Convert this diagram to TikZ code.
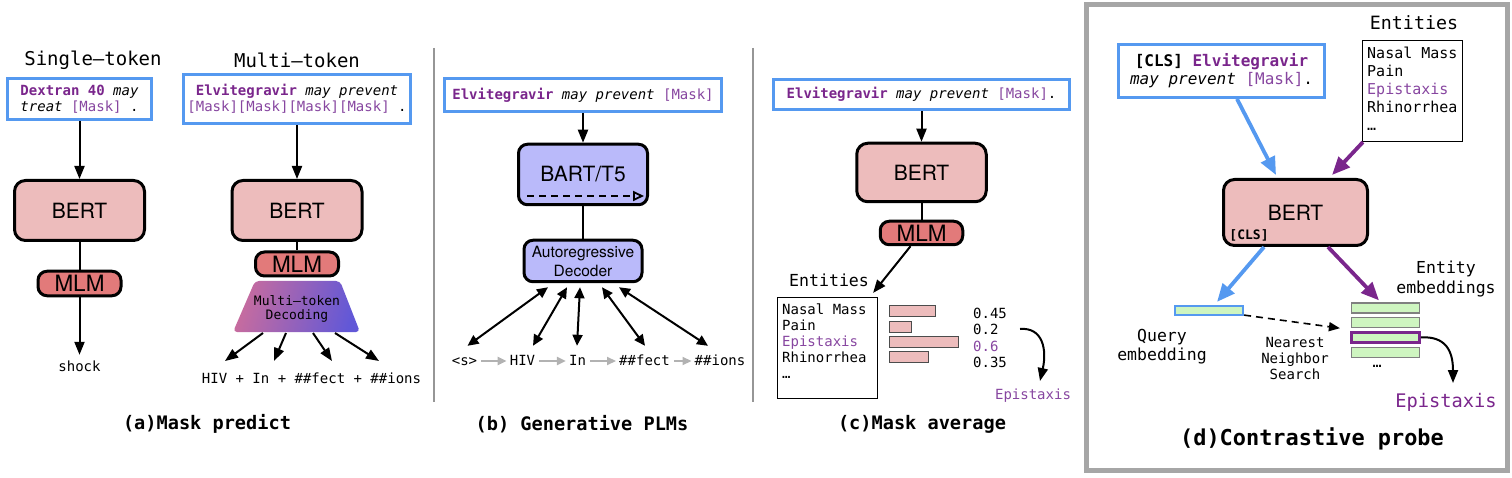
\documentclass[tikz,border=0pt]{standalone}
\usepackage{fontspec}
\setmainfont{TeX Gyre Heros}
\newfontfamily\mono{DejaVu Sans Mono}
\usetikzlibrary{arrows.meta,shapes.geometric,calc}
\definecolor{qblue}{RGB}{85,153,240}
\definecolor{pur}{RGB}{122,38,140}
\definecolor{lpur}{RGB}{135,70,160}
\definecolor{bertpink}{RGB}{237,188,188}
\definecolor{mlmred}{RGB}{226,122,122}
\definecolor{bartblue}{RGB}{186,186,250}
\definecolor{embgreen}{RGB}{206,245,192}
\definecolor{sepgray}{RGB}{150,150,150}
\definecolor{tpink}{RGB}{200,108,158}
\definecolor{tmid}{RGB}{178,100,170}
\definecolor{tblue}{RGB}{98,88,215}
\newcommand\fsz[2]{\fontsize{#1}{#2}\selectfont}
\begin{document}
\begin{tikzpicture}[x=1pt,y=-1pt,
  sent/.style={draw=qblue, line width=2.8pt, fill=white, inner sep=0pt, align=center, font=\mono\fsz{14}{16}},
  bertbox/.style={draw=black, line width=3pt, fill=bertpink, rounded corners=11pt, inner sep=0pt, font=\fsz{21}{24}},
  mlmbox/.style={draw=black, line width=3pt, fill=mlmred, rounded corners=9pt, inner sep=0pt, font=\fsz{22.5}{24}},
  bartbox/.style={draw=black, line width=3pt, fill=bartblue, rounded corners=9pt, inner sep=0pt},
  arr/.style={-{Triangle[length=13pt,width=10pt]}, line width=2pt},
  darr/.style={{Triangle[length=11pt,width=10pt]}-{Triangle[length=11pt,width=10pt]}, line width=2pt},
  garr/.style={-{Triangle[length=9pt,width=8pt]}, line width=2pt, draw=black!30, shorten <=4pt, shorten >=3pt},
  conn/.style={line width=2pt},
  lbl/.style={font=\mono\fsz{14}{16}, inner sep=0pt, text height=11pt, text depth=3pt},
  captxt/.style={font=\mono\bfseries\fsz{18.6}{20}, inner sep=0pt},
  headtxt/.style={font=\mono\fsz{19}{20}, inner sep=0pt},
  sepline/.style={draw=sepgray, line width=1.2pt},
  barc/.style={fill=bertpink, draw=black!70, line width=1pt},
  embbar/.style={draw=black!50, line width=1.2pt, fill=embgreen, minimum width=68pt, minimum height=10pt, inner sep=0pt},
  bluearr/.style={-{Triangle[length=18pt,width=15pt]}, line width=3.8pt, draw=qblue},
  purarr/.style={-{Triangle[length=18pt,width=15pt]}, line width=3.8pt, draw=pur},
  entbox/.style={draw, line width=1.2pt, inner sep=0pt}
]
\useasboundingbox (0,0) rectangle (1512,478);

% ---------- (a) ----------
\node[headtxt] (st) at (93,60) {Single–token};
\node[headtxt] (mt) at (297,60) {Multi–token};
\node[sent, minimum width=144pt, minimum height=41pt] (sbox) at (79.5,99)
  {{\bfseries\color{pur}Dextran 40} \textit{may}\\\textit{treat} {\color{lpur}[Mask]} .};
\node[sent, minimum width=227pt, minimum height=49pt] (mbox) at (297,99)
  {{\bfseries\color{pur}Elvitegravir} \textit{may prevent}\\{\color{lpur}[Mask][Mask][Mask][Mask]} .};
\node[bertbox, minimum width=130pt, minimum height=60pt] (sbert) at (79.5,210.5) {BERT};
\node[bertbox, minimum width=130pt, minimum height=60pt] (mbert) at (297,210.5) {BERT};
\draw[arr] (sbox) -- (sbert);
\draw[arr] (mbox) -- (mbert);
\node[mlmbox, minimum width=83pt, minimum height=24.5pt] (smlm) at (79.5,283.5) {MLM};
\draw[conn] (sbert) -- (smlm);
\node[lbl] (shock) at (79.5,367) {shock};
\draw[arr] (smlm) -- ($(shock.north)+(0,-5)$);
\node[mlmbox, minimum width=83pt, minimum height=24pt] (mmlm) at (297,264) {MLM};
\draw[conn] (mbert) -- (mmlm);
\path[rounded corners=4pt, left color=tpink, middle color=tmid, right color=tblue, shading angle=75]
  (255,281) -- (340,281) -- (360,332) -- (233,332) -- cycle;
\node[font=\mono\fsz{13}{14}, align=center, inner sep=0pt] (mtd) at (297,309) {Multi–token\\Decoding};
\node[lbl] (mout) at (311.5,379) {HIV + In + \#\#fect + \#\#ions};
\coordinate (t1) at (263,333); \coordinate (t2) at (286,333);
\coordinate (t3) at (313,333); \coordinate (t4) at (335,333);
\coordinate (e1) at (225,361); \coordinate (e2) at (274,361);
\coordinate (e3) at (332,361); \coordinate (e4) at (379,361);
\draw[arr] (t1) -- (e1);
\draw[arr] (t2) -- (e2);
\draw[arr] (t3) -- (e3);
\draw[arr] (t4) -- (e4);
\node[captxt] (capa) at (207,424) {(a)Mask predict};

\coordinate (sep1a) at (434,48); \coordinate (sep1b) at (434,402);
\draw[sepline] (sep1a) -- (sep1b);

% ---------- (b) ----------
\node[sent, minimum width=277pt, minimum height=33pt] (bbox) at (583,95)
  {{\bfseries\color{pur}Elvitegravir} \textit{may prevent} {\color{lpur}[Mask]}};
\node[bartbox, minimum width=129pt, minimum height=60.5pt, font=\fsz{21}{24}] (bart) at (583,174.5) {BART/T5};
\coordinate (bda) at (527,196); \coordinate (bdb) at (644,196);
\draw[line width=1.8pt, dash pattern=on 7pt off 5pt, -{Triangle[open,length=11pt,width=10pt]}] (bda) -- (bdb);
\draw[arr] (bbox) -- (bart);
\node[bartbox, minimum width=118pt, minimum height=41.5pt, align=center, font=\fsz{15.5}{19}] (dec) at (583,261) {Autoregressive\\Decoder};
\draw[conn] (bart) -- (dec);
\node[lbl] (s0) at (464.5,361) {<s>};
\node[lbl] (s1) at (522.5,361) {HIV};
\node[lbl] (s2) at (577.5,361) {In};
\node[lbl] (s3) at (644.5,361) {\#\#fect};
\node[lbl] (s4) at (720,361) {\#\#ions};
\draw[garr] (s0) -- (s1);
\draw[garr] (s1) -- (s2);
\draw[garr] (s2) -- (s3);
\draw[garr] (s3) -- (s4);
\draw[darr] ($(dec.south)+(-35,4)$) -- ($(s0.north)+(3,-8)$);
\draw[darr] ($(dec.south)+(-16,4)$) -- ($(s1.north)+(10.5,-8)$);
\draw[darr] ($(dec.south)+(-3,4)$) -- ($(s2.north)+(-0.5,-8)$);
\draw[darr] ($(dec.south)+(19,4)$) -- ($(s3.north)+(0.5,-8)$);
\draw[darr] ($(dec.south)+(36,4)$) -- ($(s4.north)+(-12,-8)$);
\node[captxt] (capb) at (582,424) {(b) Generative PLMs};

\coordinate (sep2a) at (753,48); \coordinate (sep2b) at (753,402);
\draw[sepline] (sep2a) -- (sep2b);

% ---------- (c) ----------
\node[sent, minimum width=296pt, minimum height=30.5pt] (cbox) at (921.5,94.5)
  {{\bfseries\color{pur}Elvitegravir} \textit{may prevent} {\color{lpur}[Mask]}.};
\node[bertbox, minimum width=129.5pt, minimum height=58.5pt] (cbert) at (921.5,172.5) {BERT};
\draw[arr] (cbox) -- (cbert);
\node[mlmbox, minimum width=82.5pt, minimum height=23.5pt] (cmlm) at (921.5,233) {MLM};
\draw[conn] (cbert) -- (cmlm);
\node[font=\mono\fsz{16.6}{18}, inner sep=0pt] (cent) at (829,280) {Entities};
\node[entbox, minimum width=100pt, minimum height=101pt] (cebox) at (827.5,348) {};
\draw[arr] ($(cmlm.south)+(-11,0)$) -- ($(cebox.north east)+(-5,-4)$);
\node[anchor=north west, align=left, font=\mono\fsz{14}{16}, inner sep=0pt] (celist) at (782,303.5)
  {Nasal Mass\\Pain\\{\color{lpur}Epistaxis}\\Rhinorrhea\\…};
\draw[barc] (889,305) rectangle (935,316);
\draw[barc] (889,321) rectangle (911,332);
\draw[barc] (889,336) rectangle (958,347);
\draw[barc] (889,351) rectangle (928,362);
\node[anchor=west, font=\mono\fsz{14}{16}, inner sep=0pt] (n1) at (973,313) {0.45};
\node[anchor=west, font=\mono\fsz{14}{16}, inner sep=0pt] (n2) at (973,329.5) {0.2};
\node[anchor=west, font=\mono\fsz{14}{16}, inner sep=0pt, text=lpur] (n3) at (973,346) {0.6};
\node[anchor=west, font=\mono\fsz{14}{16}, inner sep=0pt] (n4) at (973,362) {0.35};
\node[font=\mono\fsz{14}{16}, text=lpur, inner sep=0pt] (cepi) at (1033,396) {Epistaxis};
\coordinate (cc1) at (1020,329); \coordinate (cc2) at (1040,381);
\draw[arr] (cc1) .. controls (1043,327) and (1047,350) .. (cc2);
\node[captxt] (capc) at (922,424) {(c)Mask average};

% ---------- (d) ----------
\coordinate (fr1) at (1086,4.5); \coordinate (fr2) at (1507.5,470.5);
\draw[line width=5pt, draw=black!35] (fr1) rectangle (fr2);
\node[font=\mono\fsz{18.3}{20}, inner sep=0pt] (dent) at (1414,23) {Entities};
\node[entbox, minimum width=100pt, minimum height=101pt] (debox) at (1412.5,91) {};
\node[anchor=north west, align=left, font=\mono\fsz{15}{18}, inner sep=0pt] (delist) at (1367,46.5)
  {Nasal Mass\\Pain\\{\color{lpur}Epistaxis}\\Rhinorrhea\\…};
\node[sent, font=\mono\fsz{16}{18}, minimum width=206pt, minimum height=53pt] (dq) at (1221.5,71)
  {{\bfseries [CLS] {\color{pur}Elvitegravir}}\\\textit{may prevent} {\color{lpur}[Mask]}.};
\node[bertbox, minimum width=144pt, minimum height=66pt] (dbert) at (1295.5,212.5) {BERT};
\node[font=\mono\bfseries\fsz{13}{14}, inner sep=0pt] (dcls) at (1249,235) {[CLS]};
\draw[bluearr] ($(dq.south)+(15.5,0)$) -- ($(dbert.north)+(-19.5,-3)$);
\draw[purarr] ($(debox.south west)+(1,0)$) -- ($(dbert.north)+(36.5,-3)$);
\node[draw=qblue, line width=2.2pt, fill=embgreen, minimum width=68pt, minimum height=9pt, inner sep=0pt] (dqe) at (1209,310.5) {};
\node[embbar] (eb1) at (1385.5,308) {};
\node[embbar] (eb2) at (1385.5,322.7) {};
\node[embbar, draw=pur, line width=2.6pt] (eb3) at (1385.5,337.4) {};
\node[embbar] (eb4) at (1385.5,352.1) {};
\draw[bluearr] ($(dbert.south)+(-31.5,0)$) -- ($(dqe.north)+(8,-3)$);
\draw[purarr] ($(dbert.south)+(32.5,0)$) -- ($(eb1.north)+(-6.5,-2)$);
\draw[line width=1.6pt, dash pattern=on 7pt off 5pt, -{Triangle[length=11pt,width=9pt]}] ($(dqe.south east)+(0,-1)$) -- ($(eb2.west)+(-11,5.5)$);
\node[align=center, font=\mono\fsz{16.5}{19}, inner sep=0pt] (dql) at (1162,346.5) {Query\\embedding};
\node[align=center, font=\mono\fsz{14}{16}, inner sep=0pt] (dnn) at (1295,358) {Nearest\\Neighbor\\Search};
\node[font=\mono\fsz{15}{16}, inner sep=0pt] (ddots) at (1377,366) {…};
\node[align=center, font=\mono\fsz{16.5}{20}, inner sep=0pt] (del) at (1446,279) {Entity\\embeddings};
\node[font=\mono\fsz{18.7}{20}, text=pur, inner sep=0pt] (depi) at (1446,402) {Epistaxis};
\coordinate (dcend) at (1453,383);
\draw[arr] (eb3.east) .. controls (1445,336) and (1453,350) .. (dcend);
\node[captxt, font=\mono\bfseries\fsz{21.9}{24}] (capd) at (1312,439) {(d)Contrastive probe};
\end{tikzpicture}
\end{document}
